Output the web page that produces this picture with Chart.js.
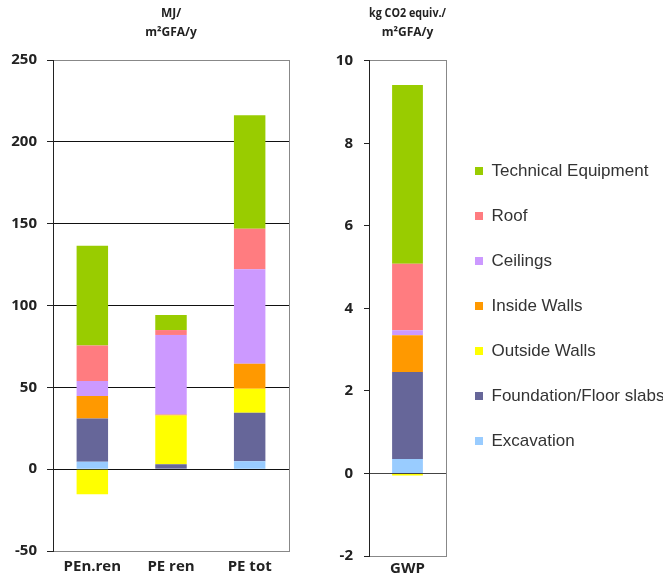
<!DOCTYPE html>
<html>
<head>
<meta charset="utf-8">
<script src="https://cdn.jsdelivr.net/npm/chart.js@4.4.1/dist/chart.umd.min.js"></script>
<style>
  html, body { margin: 0; padding: 0; background: #fff; overflow: hidden; }
  #energyChart { position: absolute; left: 0; top: 0; }
  #gwpChart { position: absolute; left: 300px; top: 0; }
</style>
</head>
<body>
<canvas id="energyChart" width="300" height="579"></canvas>
<canvas id="gwpChart" width="363" height="579"></canvas>
<script>
'use strict';

// Categories
const energyLabels = ['PEn.ren', 'PE ren', 'PE tot'];
const gwpLabels = ['GWP'];
const components = ['Excavation', 'Foundation/Floor slabs', 'Outside Walls', 'Inside Walls', 'Ceilings', 'Roof', 'Technical Equipment'];
const componentColors = ['#99ccff', '#666699', '#ffff00', '#ff9900', '#cc99ff', '#ff7c80', '#99cc00'];

// MJ/m2GFA/y per energy category (PEn.ren, PE ren, PE tot)
const excavation = [4.5, 0, 4.9];
const foundation = [26.5, 3, 29.6];
const outsideWalls = [-15.3, 29.8, 14.6];
const insideWalls = [13.7, 0.5, 15.3];
const ceilings = [9.2, 48.7, 57.8];
const roof = [21.6, 3, 24.7];
const technicalEquipment = [61, 9.2, 69.3];

// kg CO2 equiv./m2GFA/y, same order as components
const gwpValues = [0.35, 2.11, -0.05, 0.89, 0.12, 1.61, 4.33];

// Axis ranges
const energyAxis = { min: -50, max: 250, step: 50 };
const gwpAxis = { min: -2, max: 10, step: 2 };

const energySeries = [excavation, foundation, outsideWalls, insideWalls, ceilings, roof, technicalEquipment];

const boldFont = (size) => ({ family: "'Open Sans', sans-serif", size: size, weight: 'bold' });
const titleFont = { family: "'Open Sans', sans-serif", size: 12, weight: 'bold', lineHeight: 19 / 12 };
const legendFont = { family: "'Liberation Sans', Arial, sans-serif", size: 17 };
const legendPadding = 28;
const legendBox = 8;

function makeDatasets(valuesFor) {
  return components.map((name, i) => ({
    label: name,
    data: valuesFor(i),
    backgroundColor: componentColors[i],
    borderWidth: 0,
    barPercentage: 0.4,
    categoryPercentage: 1
  }));
}

// right hand frame line of the plot area
const frameAxis = {
  type: 'linear',
  position: 'right',
  ticks: { display: false },
  grid: { drawOnChartArea: false, drawTicks: false },
  border: { color: '#888' },
  afterFit: (s) => { s.width = 1; }
};

// Energy chart
new Chart(document.getElementById('energyChart'), {
  type: 'bar',
  data: {
    labels: energyLabels,
    datasets: makeDatasets(i => energySeries[i])
  },
  options: {
    responsive: false,
    animation: false,
    layout: { padding: { right: 10 } },
    plugins: {
      legend: { display: false },
      tooltip: { enabled: false },
      title: {
        display: true,
        text: ['MJ/', 'm²GFA/y'],
        fullSize: false,
        color: '#222',
        font: titleFont,
        padding: { top: 4.5, bottom: 17.5 }
      }
    },
    scales: {
      x: {
        stacked: true,
        grid: { display: false, drawTicks: false },
        border: { color: '#888' },
        ticks: { font: boldFont(15), color: '#222', padding: 7 },
        afterFit: (s) => { s.height = 28; }
      },
      y: {
        stacked: true,
        min: energyAxis.min,
        max: energyAxis.max,
        ticks: { stepSize: energyAxis.step, font: boldFont(15), color: '#222', padding: 10 },
        grid: {
          color: (c) => c.tick.value === energyAxis.max ? '#888' : (c.tick.value === energyAxis.min ? 'rgba(0,0,0,0)' : '#111'),
          tickColor: '#222',
          tickLength: 6
        },
        border: { color: '#222' },
        afterFit: (s) => { s.width = 53; }
      },
      y2: frameAxis
    }
  }
});

// GWP canvas is sized so the legend keeps its natural width next to the plot
const gwpCanvas = document.getElementById('gwpChart');
const measure = document.createElement('canvas').getContext('2d');
measure.font = legendFont.size + "px " + legendFont.family;
const longestLabel = Math.max(...components.map(t => measure.measureText(t).width));
const legendWidth = legendPadding + legendBox + legendFont.size / 2 + longestLabel + 10;
gwpCanvas.width = Math.ceil(146 + 1 + legendWidth);
const gwpRightPad = gwpCanvas.width - (146 + 1 + legendWidth);

new Chart(gwpCanvas, {
  type: 'bar',
  data: {
    labels: gwpLabels,
    datasets: makeDatasets(i => [gwpValues[i]])
  },
  options: {
    responsive: false,
    animation: false,
    layout: { padding: { right: gwpRightPad } },
    plugins: {
      tooltip: { enabled: false },
      title: {
        display: true,
        text: ['kg CO2 equiv./', 'm²GFA/y'],
        fullSize: false,
        color: '#222',
        font: titleFont,
        padding: { top: 4.5, bottom: 18.2 }
      },
      legend: {
        display: true,
        position: 'right',
        reverse: true,
        maxWidth: 400,
        title: { display: true, text: '', font: { size: 12, lineHeight: 1 }, padding: { top: 21, bottom: 0 } },
        labels: {
          boxWidth: legendBox,
          boxHeight: legendBox,
          padding: legendPadding,
          color: '#333',
          font: legendFont
        }
      }
    },
    scales: {
      x: {
        stacked: true,
        grid: { display: false, drawTicks: false },
        border: { color: '#888' },
        ticks: { font: boldFont(15), color: '#222', padding: 4 },
        afterFit: (s) => { s.height = 23; }
      },
      y: {
        stacked: true,
        min: gwpAxis.min,
        max: gwpAxis.max,
        ticks: { stepSize: gwpAxis.step, font: boldFont(15), color: '#222', padding: 11 },
        grid: {
          color: (c) => c.tick.value === 0 ? '#444' : (c.tick.value === gwpAxis.max ? '#888' : 'rgba(0,0,0,0)'),
          tickColor: '#222',
          tickLength: 5
        },
        border: { color: '#222' },
        afterFit: (s) => { s.width = 69; }
      },
      y2: frameAxis
    }
  }
});
</script>
</body>
</html>
